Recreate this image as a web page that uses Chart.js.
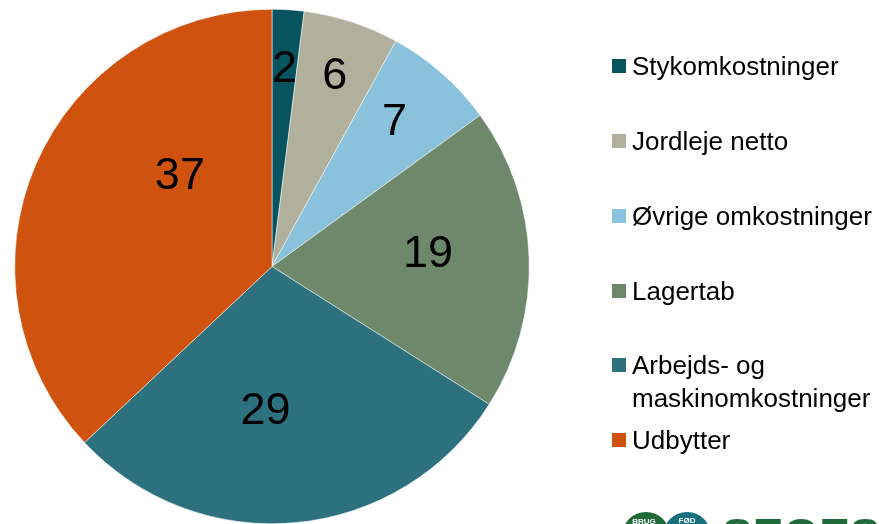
<!DOCTYPE html>
<html>
<head>
<meta charset="utf-8">
<script src="https://cdn.jsdelivr.net/npm/chart.js@4"></script>
<style>
  body { margin: 0; background: #fff; }
  #pie { display: block; }
</style>
</head>
<body>
<canvas id="pie" width="879" height="524"></canvas>
<script>
// data
const categories = [
  "Stykomkostninger",
  "Jordleje netto",
  "Øvrige omkostninger",
  "Lagertab",
  "Arbejds- og maskinomkostninger",
  "Udbytter",
];
const shares = [2, 6, 7, 19, 29, 37];
const legendLines = [
  ["Stykomkostninger"],
  ["Jordleje netto"],
  ["Øvrige omkostninger"],
  ["Lagertab"],
  ["Arbejds- og", "maskinomkostninger"],
  ["Udbytter"],
];

const sliceColors = ["#07535f", "#b0b09c", "#8ac2db", "#6e886b", "#2d717f", "#cf530e"];

// where the numbers sit inside the slices: [radius fraction, angle shift in degrees]
const labelPlacement = [[0.78, 0], [0.79, 0], [0.745, -1.7], [0.61, -4], [0.55, 8], [0.51, 22]];

const FONT = "'Liberation Sans', Arial, sans-serif";

// numbers on the slices
const sliceLabels = {
  id: "sliceLabels",
  afterDatasetsDraw(chart) {
    const ctx = chart.ctx;
    const arcs = chart.getDatasetMeta(0).data;
    ctx.save();
    ctx.fillStyle = "#000";
    ctx.font = "45px " + FONT;
    ctx.textAlign = "center";
    ctx.textBaseline = "alphabetic";
    arcs.forEach((arc, i) => {
      const p = arc.getProps(["x", "y", "startAngle", "endAngle", "outerRadius"], true);
      const [frac, shift] = labelPlacement[i];
      const mid = (p.startAngle + p.endAngle) / 2 + shift * Math.PI / 180;
      const lx = p.x + Math.cos(mid) * p.outerRadius * frac;
      const ly = p.y + Math.sin(mid) * p.outerRadius * frac;
      ctx.fillText(String(shares[i]), lx, ly + 45 * 0.358);
    });
    ctx.restore();
  },
};

// legend on the right, drawn by hand because of the uneven rows
const sideLegend = {
  id: "sideLegend",
  afterDraw(chart) {
    const ctx = chart.ctx;
    const rows = [66, 141, 216, 291, 365, 440];
    ctx.save();
    ctx.font = "26px " + FONT;
    ctx.textBaseline = "alphabetic";
    ctx.textAlign = "left";
    legendLines.forEach((lines, i) => {
      const y = rows[i];
      ctx.fillStyle = sliceColors[i];
      ctx.fillRect(612, y - 7, 14, 14);
      ctx.fillStyle = "#000";
      lines.forEach((t, j) => {
        ctx.fillText(t, 632, y + 9 + j * 33);
      });
    });

    // logo peeking in at the bottom right
    ctx.fillStyle = "#1f6b3a";
    ctx.beginPath();
    ctx.arc(646, 536, 24, 0, Math.PI * 2);
    ctx.fill();
    ctx.fillStyle = "#17707e";
    ctx.beginPath();
    ctx.arc(687, 536, 24, 0, Math.PI * 2);
    ctx.fill();
    ctx.fillStyle = "#fff";
    ctx.font = "bold 8px " + FONT;
    ctx.textAlign = "center";
    ctx.fillText("BRUG", 644, 524);
    ctx.fillText("FØD", 687, 523);
    ctx.fillStyle = "#1f6b3a";
    ctx.font = "bold 46px " + FONT;
    ctx.textAlign = "left";
    ctx.fillText("SEGES", 722, 551);
    ctx.restore();
  },
};

new Chart(document.getElementById("pie"), {
  type: "pie",
  data: {
    labels: categories,
    datasets: [
      {
        data: shares,
        backgroundColor: sliceColors,
        borderColor: "#ffffff",
        borderWidth: 0.5,
        hoverOffset: 0,
      },
    ],
  },
  options: {
    responsive: false,
    animation: false,
    layout: { padding: { left: 14, right: 349, top: 9, bottom: 0 } },
    plugins: {
      legend: { display: false },
      tooltip: { enabled: false },
    },
  },
  plugins: [sliceLabels, sideLegend],
});
</script>
</body>
</html>
